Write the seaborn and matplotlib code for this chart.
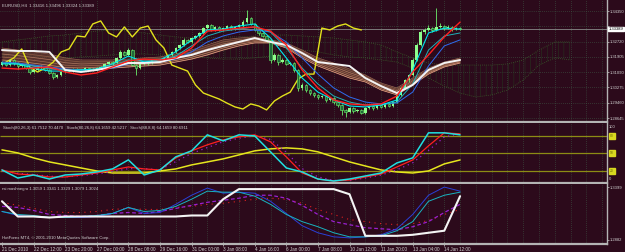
import numpy as np
import pandas as pd
import matplotlib
matplotlib.use("Agg")
import matplotlib.pyplot as plt
import seaborn as sns

sns.set_theme(style="dark")
plt.rcParams['font.family'] = ['Liberation Sans', 'DejaVu Sans']
plt.rcParams['hatch.linewidth'] = 0.35

# ---------------- DATA ----------------
symbol_header = "EURUSD,H4  1.33416 1.33496 1.33324 1.33389"
stoch_header = ("Stoch(80,26,3) 61.7512 70.4470   Stoch(80,26,8) 64.1659 42.5217   "
                "Stoch(88,8,8) 64.1659 80.6911")
rsi_header = "rsi mashnegro 1.3059 1.3341 1.3329 1.3079 1.3024"
footer = "HotForex MT4, \u00a9 2001-2010 MetaQuotes Software Corp."

time_labels = ["21 Dec 2010", "22 Dec 12:00", "23 Dec 20:00", "27 Dec 00:00", "28 Dec 08:00",
               "29 Dec 16:00", "31 Dec 00:00", "3 Jan 08:00", "4 Jan 16:00", "6 Jan 00:00",
               "7 Jan 08:00", "10 Jan 12:00", "11 Jan 20:00", "13 Jan 04:00", "14 Jan 12:00"]
time_label_bars = [0, 8, 16, 24, 32, 40, 48, 56, 64, 72, 80, 88, 96, 104, 112]

price_ticks = [1.34350, 1.33535, 1.32720, 1.31905, 1.31090, 1.30275, 1.29460, 1.28645]
price_tick_labels = ["1.34350", "", "1.32720", "1.31905", "1.31090", "1.30275", "1.29460", "1.28645"]
bid_price = 1.33389

first_open = 1.3150
close = [1.3163,1.3147,1.3174,1.3158,1.3142,1.3153,1.3131,1.3110,1.3121,1.3131,
         1.3137,1.3121,1.3105,1.3083,1.3094,1.3110,1.3121,1.3115,1.3126,1.3121,
         1.3121,1.3131,1.3126,1.3121,1.3131,1.3137,1.3153,1.3163,1.3158,1.3185,
         1.3217,1.3201,1.3227,1.3147,1.3131,1.3153,1.3163,1.3158,1.3174,1.3169,
         1.3174,1.3185,1.3201,1.3217,1.3238,1.3254,1.3281,1.3270,1.3291,1.3302,
         1.3318,1.3344,1.3360,1.3334,1.3350,1.3334,1.3344,1.3355,1.3339,1.3350,
         1.3360,1.3376,1.3398,1.3366,1.3334,1.3318,1.3302,1.3281,1.3174,1.3201,
         1.3163,1.3174,1.3153,1.3158,1.3121,1.3025,1.3041,1.3014,1.2998,1.2988,
         1.2976,1.2982,1.2961,1.2972,1.2950,1.2934,1.2908,1.2897,1.2918,1.2902,
         1.2908,1.2892,1.2918,1.2929,1.2918,1.2934,1.2924,1.2940,1.2929,1.2950,
         1.2988,1.3025,1.3067,1.3094,1.3174,1.3254,1.3323,1.3334,1.3344,1.3334,
         1.3350,1.3355,1.3344,1.3350,1.3339,1.3344,1.3339]
high = [1.3170,1.3168,1.3180,1.3180,1.3162,1.3160,1.3158,1.3136,1.3128,1.3140,
        1.3145,1.3142,1.3125,1.3108,1.3100,1.3115,1.3126,1.3125,1.3130,1.3130,
        1.3126,1.3135,1.3134,1.3130,1.3136,1.3142,1.3158,1.3170,1.3168,1.3192,
        1.3225,1.3222,1.3240,1.3232,1.3152,1.3158,1.3168,1.3168,1.3180,1.3178,
        1.3179,1.3190,1.3206,1.3222,1.3244,1.3260,1.3290,1.3286,1.3296,1.3308,
        1.3325,1.3350,1.3368,1.3365,1.3356,1.3355,1.3350,1.3362,1.3360,1.3356,
        1.3368,1.3385,1.3440,1.3404,1.3372,1.3340,1.3324,1.3308,1.3286,1.3210,
        1.3206,1.3182,1.3180,1.3165,1.3162,1.3126,1.3052,1.3046,1.3020,1.3004,
        1.2994,1.2990,1.2986,1.2978,1.2976,1.2955,1.2938,1.2912,1.2924,1.2922,
        1.2914,1.2912,1.2924,1.2934,1.2934,1.2940,1.2938,1.2946,1.2944,1.2956,
        1.2995,1.3032,1.3075,1.3102,1.3182,1.3262,1.3332,1.3345,1.3360,1.3352,
        1.3450,1.3372,1.3362,1.3358,1.3356,1.3350,1.3350]
low = [1.3144,1.3140,1.3142,1.3150,1.3128,1.3138,1.3124,1.3098,1.3104,1.3115,
       1.3126,1.3114,1.3098,1.3072,1.3078,1.3088,1.3104,1.3108,1.3110,1.3114,
       1.3114,1.3116,1.3120,1.3114,1.3116,1.3126,1.3132,1.3148,1.3150,1.3152,
       1.3180,1.3194,1.3196,1.3140,1.3094,1.3126,1.3148,1.3150,1.3152,1.3162,
       1.3164,1.3168,1.3178,1.3196,1.3210,1.3230,1.3248,1.3262,1.3264,1.3284,
       1.3296,1.3312,1.3338,1.3326,1.3328,1.3326,1.3328,1.3338,1.3332,1.3334,
       1.3344,1.3352,1.3370,1.3358,1.3326,1.3306,1.3294,1.3270,1.3160,1.3166,
       1.3150,1.3156,1.3146,1.3148,1.3112,1.3010,1.3016,1.3004,1.2990,1.2978,
       1.2966,1.2970,1.2952,1.2955,1.2942,1.2926,1.2880,1.2868,1.2890,1.2894,
       1.2898,1.2884,1.2888,1.2912,1.2910,1.2912,1.2916,1.2918,1.2922,1.2924,
       1.2944,1.2980,1.3018,1.3058,1.3088,1.3166,1.3246,1.3314,1.3326,1.3324,
       1.3328,1.3342,1.3336,1.3338,1.3330,1.3334,1.3332]

# indicator lines sampled every 4 bars (bars 0..116)
ma_red = [1.3131,1.3126,1.3131,1.3137,1.3110,1.3094,1.3105,1.3137,1.3169,1.3179,
          1.3174,1.3185,1.3238,1.3328,1.3334,1.3344,1.3350,1.3328,1.3254,1.3121,
          1.3025,1.2961,1.2940,1.2934,1.2940,1.2982,1.3110,1.3201,1.3297,1.3376]
ma_white = [1.3227,1.3222,1.3222,1.3217,1.3121,1.3110,1.3121,1.3137,1.3158,1.3158,
            1.3163,1.3185,1.3201,1.3227,1.3249,1.3270,1.3291,1.3270,1.3254,1.3211,
            1.3163,1.3153,1.3142,1.3078,1.3035,1.2998,1.3041,1.3121,1.3158,1.3174]
ma_cyan = [1.3153,1.3153,1.3131,1.3115,1.3115,1.3121,1.3126,1.3153,1.3195,1.3163,
           1.3174,1.3217,1.3281,1.3334,1.3339,1.3355,1.3366,1.3291,1.3185,1.3078,
           1.3003,1.2961,1.2929,1.2924,1.2934,1.2961,1.3121,1.3318,1.3344,1.3339]
ma_teal = [1.3158,1.3153,1.3142,1.3126,1.3121,1.3121,1.3121,1.3142,1.3174,1.3169,
           1.3169,1.3195,1.3249,1.3302,1.3328,1.3339,1.3350,1.3323,1.3238,1.3131,
           1.3046,1.2982,1.2950,1.2934,1.2934,1.2950,1.3046,1.3227,1.3302,1.3318]
ma_blue = [1.3163,1.3158,1.3147,1.3137,1.3126,1.3121,1.3121,1.3131,1.3153,1.3163,
           1.3163,1.3179,1.3217,1.3270,1.3302,1.3323,1.3334,1.3323,1.3270,1.3185,
           1.3099,1.3025,1.2977,1.2950,1.2940,1.2945,1.3003,1.3142,1.3249,1.3281]
ribbon_top = [1.3238,1.3227,1.3217,1.3206,1.3185,1.3174,1.3174,1.3174,1.3179,1.3185,
              1.3190,1.3206,1.3227,1.3254,1.3281,1.3291,1.3297,1.3281,1.3265,1.3227,
              1.3185,1.3158,1.3126,1.3094,1.3051,1.3025,1.3078,1.3131,1.3163,1.3185]
ribbon_bot = [1.3158,1.3153,1.3142,1.3131,1.3121,1.3121,1.3126,1.3131,1.3137,1.3142,
              1.3147,1.3163,1.3179,1.3201,1.3227,1.3249,1.3265,1.3265,1.3238,1.3185,
              1.3142,1.3110,1.3078,1.3057,1.3014,1.2988,1.3041,1.3099,1.3137,1.3158]

# lagging (chikou) line, every 2 bars from bar 1 to 91
chikou = [1.3163,1.3185,1.3233,1.3137,1.3110,1.3131,1.3163,1.3217,1.3233,1.3302,
          1.3297,1.3366,1.3382,1.3318,1.3297,1.3350,1.3297,1.3344,1.3355,1.3281,
          1.3238,1.3147,1.3131,1.3115,1.3041,1.2998,1.2982,1.2966,1.2944,1.2924,
          1.2913,1.2940,1.2929,1.2908,1.2956,1.2982,1.3003,1.3073,1.3099,1.3099,
          1.3344,1.3334,1.3355,1.3366,1.3344,1.3334]

# cloud spans, every 4 bars from bar 0 to 144
span_a = [1.3270,1.3281,1.3291,1.3302,1.3307,1.3318,1.3328,1.3334,1.3328,1.3318,
          1.3307,1.3297,1.3291,1.3291,1.3297,1.3297,1.3302,1.3307,1.3307,1.3302,
          1.3297,1.3291,1.3281,1.3270,1.3254,1.3217,1.3185,1.3158,1.3147,1.3147,
          1.3147,1.3147,1.3153,1.3174,1.3227,1.3270,1.3270]
span_b = [1.3195,1.3195,1.3195,1.3190,1.3185,1.3190,1.3195,1.3201,1.3206,1.3206,
          1.3201,1.3195,1.3190,1.3185,1.3179,1.3179,1.3185,1.3195,1.3217,1.3227,
          1.3217,1.3201,1.3190,1.3185,1.3174,1.3163,1.3131,1.3078,1.3035,1.2998,
          1.2977,1.2988,1.3014,1.3067,1.3147,1.3185,1.3174]

# stochastic panel (0-100), every 4 bars
sto_cyan = [21.8,8.0,13.2,6.3,13.2,14.9,18.4,23.6,39.0,13.2,21.8,44.1,54.4,81.8,71.5,
            81.8,80.0,52.7,25.2,18.4,6.3,2.9,6.3,11.5,16.6,33.8,42.4,85.2,85.2,81.8]
sto_red = [21.8,14.9,13.2,9.8,9.8,13.2,16.6,21.8,26.9,23.5,21.8,42.4,54.4,64.7,73.2,
           78.4,81.8,69.8,44.1,16.6,6.3,2.9,4.6,9.8,14.9,26.9,38.9,63.0,85.2,83.5]
sto_yellow = [56.1,50.9,42.4,35.5,30.4,25.2,20.1,16.6,16.6,16.6,20.1,23.5,30.4,35.5,40.7,
              47.5,54.4,57.8,59.5,57.8,52.7,44.1,35.5,28.6,21.8,18.4,16.6,20.1,32.1,38.9]
sto_purple = [20,16,14,11,10,12,15,19,24,24,22,36,50,60,70,76,80,74,52,24,10,4,4,8,13,
              22,34,55,78,84]
sto_levels = [80, 50, 20]

# rsi panel, every 4 bars
rsi_white = [1.3260,1.3111,1.3111,1.3101,1.3111,1.3111,1.3111,1.3111,1.3111,1.3111,
             1.3111,1.3111,1.3121,1.3121,1.3280,1.3379,1.3379,1.3379,1.3379,1.3379,
             1.3379,1.3379,1.3329,1.2922,1.2922,1.2922,1.2932,1.2952,1.2972,1.3310]
rsi_blue = [1.3160,1.3121,1.3111,1.3101,1.3101,1.3101,1.3111,1.3141,1.3200,1.3141,
            1.3150,1.3230,1.3319,1.3389,1.3339,1.3349,1.3339,1.3260,1.3141,1.3021,
            1.2952,1.2912,1.2902,1.2912,1.2932,1.2991,1.3131,1.3319,1.3399,1.3359]
rsi_teal = [1.3160,1.3131,1.3121,1.3101,1.3101,1.3111,1.3121,1.3141,1.3200,1.3160,
            1.3170,1.3210,1.3280,1.3359,1.3349,1.3349,1.3310,1.3230,1.3131,1.3061,
            1.3011,1.2952,1.2912,1.2912,1.2922,1.2972,1.3061,1.3260,1.3319,1.3349]
rsi_purple = [1.3210,1.3200,1.3170,1.3131,1.3121,1.3111,1.3121,1.3141,1.3150,1.3141,
              1.3160,1.3190,1.3220,1.3250,1.3270,1.3290,1.3319,1.3319,1.3290,1.3220,
              1.3131,1.3061,1.3031,1.3001,1.2991,1.2981,1.3011,1.3061,1.3150,1.3230]
rsi_red = [1.3250,1.3220,1.3190,1.3160,1.3150,1.3150,1.3160,1.3180,1.3190,1.3180,
           1.3180,1.3200,1.3210,1.3230,1.3240,1.3260,1.3280,1.3290,1.3280,1.3240,
           1.3180,1.3131,1.3081,1.3061,1.3041,1.3031,1.3041,1.3071,1.3131,1.3180]
rsi_ticks = [1.3399, 1.2882]

# ---------------- FIGURE ----------------
BG = "#2c0a1b"
GRID = "#3f5c48"
AXC = "#b4b4b4"
TXT = "#d2d2d2"
FS_AX = 3.3   # time labels
FS_RT = 2.95  # right-hand price labels
FS_HD = 3.1
W, H = 625, 252
fig = plt.figure(figsize=(W / 100, H / 100), dpi=100, facecolor=BG)


def px_axes(x0, y0, x1, y1):
    ax = fig.add_axes([x0 / W, 1 - y1 / H, (x1 - x0) / W, (y1 - y0) / H])
    ax.set_facecolor(BG)
    for s in ax.spines.values():
        s.set_visible(False)
    ax.spines['right'].set_visible(True)
    ax.spines['bottom'].set_visible(True)
    ax.spines['right'].set_color(AXC)
    ax.spines['bottom'].set_color(AXC)
    ax.spines['right'].set_linewidth(1.0)
    ax.spines['bottom'].set_linewidth(1.6)
    ax.grid(False)
    return ax


XL = (-0.5, 153.2)
ax_m = px_axes(0, 0, 607, 122)
ax_s = px_axes(0, 123, 607, 183)
ax_r = px_axes(0, 184, 607, 244)

n = len(close)
bars = np.arange(n)
ma_bars = np.arange(0, n, 4)
chikou_bars = np.arange(1, 92, 2)
span_bars = np.arange(0, 145, 4)
opens = [first_open] + close[:-1]


def vgrid(ax, lo, hi):
    ax.vlines(np.arange(4, 154, 4), lo, hi, colors=GRID, linestyles=(0, (1, 2)),
              linewidth=0.5, zorder=0)


def line(ax, xs, ys, color, lw, ls='-', z=3):
    df = pd.DataFrame({"x": xs, "y": ys})
    sns.lineplot(data=df, x="x", y="y", ax=ax, color=color, linewidth=lw,
                 linestyle=ls, estimator=None, sort=False, zorder=z)
    ax.set_xlabel("")
    ax.set_ylabel("")

# ---- main panel ----
ylo, yhi = 1.28437, 1.34936
ax_m.set_xlim(*XL)
ax_m.set_ylim(ylo, yhi)
vgrid(ax_m, ylo, yhi)
ax_m.hlines(price_ticks, XL[0], XL[1], colors=GRID, linestyles=(0, (1, 2)),
            linewidth=0.5, zorder=0)

# cloud (dotted histogram look)
ax_m.fill_between(span_bars, span_a, span_b, facecolor="none", edgecolor="#263a20",
                  hatch="|||", linewidth=0, zorder=1)
line(ax_m, span_bars, span_a, "#3a5a2a", 0.6, ls=(0, (1, 1.5)), z=1)
line(ax_m, span_bars, span_b, "#3a5a2a", 0.6, ls=(0, (1, 1.5)), z=1)

# ribbon of slow averages
ax_m.fill_between(ma_bars, ribbon_top, ribbon_bot, color="#6b4436", alpha=0.7,
                  linewidth=0, zorder=2)
rib_cols = ["#9a6a52", "#8a5a45", "#b07a60", "#a06850", "#c88a6a", "#f0a88a"]
for k, c in enumerate(rib_cols):
    f = k / (len(rib_cols) - 1)
    yy = np.array(ribbon_top) * (1 - f) + np.array(ribbon_bot) * f
    line(ax_m, ma_bars, yy, c, 0.5, z=2)

# chikou
line(ax_m, chikou_bars, chikou, "#e2e21c", 1.0, z=3)

# candles
bull = np.array(close) >= np.array(opens)
ax_m.vlines(bars, low, high, colors="#6cf06c", linewidth=0.6, zorder=4)
body_lo = np.minimum(opens, close)
body_h = np.maximum(np.abs(np.array(close) - np.array(opens)), 0.00012)
ax_m.bar(bars[bull], body_h[bull], bottom=body_lo[bull], width=0.62,
         color="#8cff8c", linewidth=0, zorder=5)
ax_m.bar(bars[~bull], body_h[~bull], bottom=body_lo[~bull], width=0.62,
         color="#1f6a3a", edgecolor="#6cf06c", linewidth=0.4, zorder=5)

# moving averages
line(ax_m, ma_bars, ma_blue, "#2f6cf0", 0.7, z=6)
line(ax_m, ma_bars, ma_teal, "#1fb0b8", 0.7, z=6)
line(ax_m, ma_bars, ma_cyan, "#00e8f0", 0.8, z=6)
line(ax_m, ma_bars, ma_white, "#f4f4f4", 1.4, z=6)
line(ax_m, ma_bars, ma_red, "#ff2020", 1.0, z=7)

# bid line
ax_m.axhline(bid_price, color="#8a8a8a", linewidth=0.6, zorder=1)

ax_m.yaxis.tick_right()
ax_m.set_yticks(price_ticks)
ax_m.set_yticklabels(price_tick_labels)
ax_m.tick_params(axis='y', colors=TXT, labelsize=FS_RT, length=1.2, width=0.5, pad=0.5,
                 right=True, left=False)
ax_m.set_xticks([])
ax_m.annotate(f"{bid_price:.5f}", xy=(1.0, bid_price), xycoords=('axes fraction', 'data'),
              xytext=(1.3, 0), textcoords='offset points', ha='left', va='center',
              fontsize=FS_RT, color="black",
              bbox=dict(boxstyle="square,pad=0.1", fc="white", ec="white"))

# ---- stochastic panel ----
ax_s.set_xlim(*XL)
ax_s.set_ylim(-0.5, 102.0)
vgrid(ax_s, -0.5, 102.0)
ax_s.hlines(sto_levels, XL[0], XL[1], colors="#8c8c14", linewidth=0.9, zorder=1)
line(ax_s, ma_bars, sto_yellow, "#e6e61e", 1.1, z=3)
line(ax_s, ma_bars, sto_purple, "#9a20d0", 0.9, ls=(0, (1, 3)), z=3)
line(ax_s, ma_bars, sto_red, "#ff2020", 0.9, z=4)
line(ax_s, ma_bars, sto_cyan, "#20e0e0", 1.1, z=5)
ax_s.set_xticks([])
ax_s.set_yticks([])
ax_s.annotate("100", xy=(1.0, 100), xycoords=('axes fraction', 'data'), xytext=(1.5, -0.5),
              textcoords='offset points', ha='left', va='top', fontsize=FS_RT, color=TXT)
ax_s.annotate("0", xy=(1.0, 0), xycoords=('axes fraction', 'data'), xytext=(1.5, 1),
              textcoords='offset points', ha='left', va='bottom', fontsize=FS_RT, color=TXT)
for lv in sto_levels:
    ax_s.annotate(str(lv), xy=(1.0, lv), xycoords=('axes fraction', 'data'),
                  xytext=(2.0, 0), textcoords='offset points', ha='left', va='center',
                  fontsize=2.4, color="#6a6a00",
                  bbox=dict(boxstyle="square,pad=0.3", fc="#d8d820", ec="#d8d820"))

# ---- rsi panel ----
rlo, rhi = 1.2842, 1.3429
ax_r.set_xlim(*XL)
ax_r.set_ylim(rlo, rhi)
vgrid(ax_r, rlo, rhi)
line(ax_r, ma_bars, rsi_red, "#e02020", 0.8, ls=(0, (1, 4)), z=2)
line(ax_r, ma_bars, rsi_purple, "#9a20d0", 0.9, ls=(0, (3, 2)), z=3)
line(ax_r, ma_bars, rsi_blue, "#2a40d8", 0.7, z=4)
line(ax_r, ma_bars, rsi_teal, "#18b4c0", 0.7, z=4)
line(ax_r, ma_bars, rsi_white, "#f4f4f4", 1.5, z=5)
ax_r.yaxis.tick_right()
ax_r.set_yticks(rsi_ticks)
ax_r.set_yticklabels([f"{v:.4f}" for v in rsi_ticks])
ax_r.tick_params(axis='y', colors=TXT, labelsize=FS_RT, length=1.2, width=0.5, pad=0.5,
                 right=True, left=False)
ax_r.set_xticks(time_label_bars)
ax_r.set_xticklabels(time_labels, ha='left')
ax_r.tick_params(axis='x', colors=TXT, labelsize=FS_AX, length=3, width=0.5, pad=0.8,
                 direction='inout', bottom=True)

# ---- texts ----
fig.text(2 / W, 1 - 5.5 / H, symbol_header, fontsize=FS_HD, color=TXT, va='center', ha='left')
fig.text(3 / W, 1 - 127.5 / H, stoch_header, fontsize=FS_HD, color=TXT, va='center', ha='left')
fig.text(2 / W, 1 - 189 / H, rsi_header, fontsize=FS_HD, color=TXT, va='center', ha='left')
fig.text(2 / W, 1 - 238.5 / H, footer, fontsize=FS_HD, color=TXT, va='center', ha='left')

fig.savefig("out.png", dpi=100, facecolor=BG)
